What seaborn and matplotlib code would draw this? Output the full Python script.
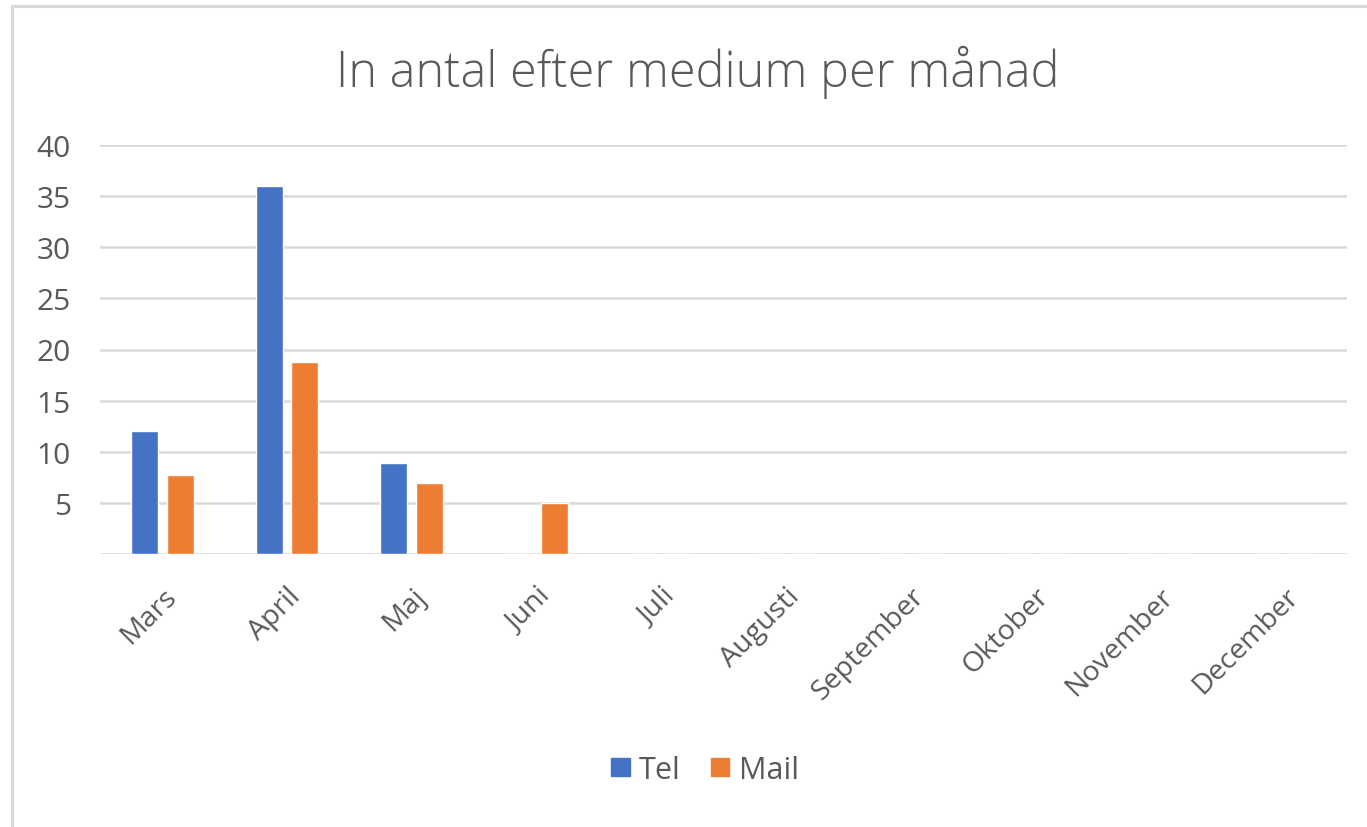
import matplotlib
matplotlib.use("Agg")
import matplotlib.pyplot as plt
from matplotlib.lines import Line2D
import seaborn as sns
import pandas as pd

months = ["Mars", "April", "Maj", "Juni", "Juli", "Augusti", "September",
          "Oktober", "November", "December"]
tel = [12, 36, 8.9, 0, 0, 0, 0, 0, 0, 0]
mail = [7.7, 18.8, 6.9, 5, 0, 0, 0, 0, 0, 0]
series = ["Tel", "Mail"]
yticks = [0, 5, 10, 15, 20, 25, 30, 35, 40]
title = "In antal efter medium per månad"

df = pd.DataFrame({
    "Månad": months * 2,
    "Medium": ["Tel"] * len(months) + ["Mail"] * len(months),
    "Antal": tel + mail,
})

sns.set_theme(style="white")
plt.rcParams["font.family"] = ["Open Sans", "DejaVu Sans"]
TEXT = "#595959"
GRID = "#D9D9D9"
palette = {"Tel": "#4472C4", "Mail": "#ED7D31"}

fig = plt.figure(figsize=(13.67, 8.28), dpi=100)
ax = fig.add_axes([100 / 1367, 1 - 555 / 828, 1247 / 1367, (555 - 146) / 828])

sns.barplot(data=df, x="Månad", y="Antal", hue="Medium", hue_order=series,
            order=months, palette=palette, width=0.57, gap=0.24,
            saturation=1, ax=ax, legend=False)

ax.set_xlim(-0.5, len(months) - 0.5)
ax.set_ylim(0, 40)
ax.set_yticks(yticks)
ax.set_yticklabels(["" if v == 0 else str(v) for v in yticks])
ax.yaxis.grid(True, color=GRID, linewidth=1.8)
ax.set_axisbelow(True)
for s in ax.spines.values():
    s.set_visible(False)
ax.set_xlabel("")
ax.set_ylabel("")
ax.tick_params(axis="y", length=0, pad=21, labelsize=21.5, labelcolor=TEXT)
ax.tick_params(axis="x", length=0, pad=20, labelsize=20.5, labelcolor=TEXT)
for lbl in ax.get_xticklabels():
    lbl.set_rotation(45)
    lbl.set_ha("right")
    lbl.set_rotation_mode("anchor")

fig.text(698 / 1367, 1 - 72 / 828, title, ha="center", va="center",
         fontsize=35, color=TEXT, fontweight="light")

handles = [plt.Rectangle((0, 0), 1, 1, color=palette[s]) for s in series]
fig.legend(handles, series, loc="center", bbox_to_anchor=(705 / 1367, 1 - 771 / 828),
           ncol=2, frameon=False, fontsize=22, labelcolor=TEXT,
           handlelength=0.6, handleheight=0.55, handletextpad=0.3, columnspacing=1.0)

fig.add_artist(Line2D([11.5 / 1367, 1], [1 - 6.5 / 828, 1 - 6.5 / 828],
                      transform=fig.transFigure, color=GRID, linewidth=2.2))
fig.add_artist(Line2D([11.5 / 1367, 11.5 / 1367], [0, 1 - 6.5 / 828],
                      transform=fig.transFigure, color=GRID, linewidth=2.2))

fig.savefig("out.png", dpi=100)
